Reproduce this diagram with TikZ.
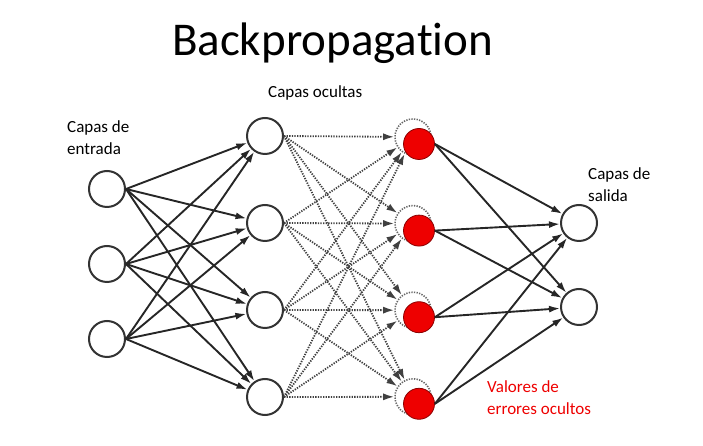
\documentclass[tikz,border=0pt]{standalone}
\usepackage{fontspec}
\setmainfont{Carlito}[Ligatures={NoCommon}]
\usetikzlibrary{arrows.meta, positioning}
\definecolor{errred}{HTML}{EE0000}
\definecolor{linegray}{HTML}{262626}
\tikzset{
    neuron/.style={
        circle, minimum size=36pt, inner sep=0pt,
        draw=black!80, line width=2pt, fill=white
    },
    hiddot/.style={
        circle, minimum size=36pt, inner sep=0pt,
        draw=black!60, line width=1.6pt, dash pattern=on 1.3pt off 1.3pt, fill=white
    },
    errnode/.style={
        circle, minimum size=31pt, inner sep=0pt,
        draw=red!55!black, line width=0.8pt, fill=errred
    },
    arrow/.style={
        -{Latex[length=11pt,width=7pt]}, line width=1.9pt, draw=linegray
    },
    dotarrow/.style={
        -{Latex[length=11pt,width=7pt]}, line width=1.8pt, draw=black!75,
        dash pattern=on 1.3pt off 1.3pt
    },
    lbltext/.style={
        inner sep=0pt, align=left, font=\fontsize{17}{22}\selectfont
    }
}

\begin{document}
\begin{tikzpicture}[x=1pt, y=1pt]

    \useasboundingbox (0,0) rectangle (703,446);

    % input layer
    \node[neuron] (in1) at (107,257) {};
    \node[neuron, below=37pt of in1] (in2) {};
    \node[neuron, below=37pt of in2] (in3) {};

    % hidden layer
    \node[neuron] (hid1) at (265,310) {};
    \node[neuron, below=49pt of hid1] (hid2) {};
    \node[neuron, below=49pt of hid2] (hid3) {};
    \node[neuron, below=49pt of hid3] (hid4) {};

    % hidden error values
    \node[hiddot] (hdot1) at (413,309) {};
    \node[hiddot, below=49pt of hdot1] (hdot2) {};
    \node[hiddot, below=49pt of hdot2] (hdot3) {};
    \node[hiddot, below=49pt of hdot3] (hdot4) {};
    \node[errnode, xshift=6pt, yshift=-7pt] (err1) at (hdot1) {};
    \node[errnode, xshift=6pt, yshift=-7pt] (err2) at (hdot2) {};
    \node[errnode, xshift=6pt, yshift=-7pt] (err3) at (hdot3) {};
    \node[errnode, xshift=6pt, yshift=-7pt] (err4) at (hdot4) {};

    % output layer
    \node[neuron] (out1) at (579,223) {};
    \node[neuron, below=46pt of out1] (out2) {};

    \draw[arrow] (in1.east) -- (hid1);
    \draw[arrow] (in1.east) -- (hid2);
    \draw[arrow] (in1.east) -- (hid3);
    \draw[arrow] (in1.east) -- (hid4);
    \draw[arrow] (in2.east) -- (hid1);
    \draw[arrow] (in2.east) -- (hid2);
    \draw[arrow] (in2.east) -- (hid3);
    \draw[arrow] (in2.east) -- (hid4);
    \draw[arrow] (in3.east) -- (hid1);
    \draw[arrow] (in3.east) -- (hid2);
    \draw[arrow] (in3.east) -- (hid3);
    \draw[arrow] (in3.east) -- (hid4);

    \draw[dotarrow] (hid1.east) -- (hdot1);
    \draw[dotarrow] (hid1.east) -- (hdot2);
    \draw[dotarrow] (hid1.east) -- (hdot3);
    \draw[dotarrow] (hid1.east) -- (hdot4);
    \draw[dotarrow] (hid2.east) -- (hdot1);
    \draw[dotarrow] (hid2.east) -- (hdot2);
    \draw[dotarrow] (hid2.east) -- (hdot3);
    \draw[dotarrow] (hid2.east) -- (hdot4);
    \draw[dotarrow] (hid3.east) -- (hdot1);
    \draw[dotarrow] (hid3.east) -- (hdot2);
    \draw[dotarrow] (hid3.east) -- (hdot3);
    \draw[dotarrow] (hid3.east) -- (hdot4);
    \draw[dotarrow] (hid4.east) -- (hdot1);
    \draw[dotarrow] (hid4.east) -- (hdot2);
    \draw[dotarrow] (hid4.east) -- (hdot3);
    \draw[dotarrow] (hid4.east) -- (hdot4);

    \draw[arrow] (err1.east) -- (out1);
    \draw[arrow] (err1.east) -- (out2);
    \draw[arrow] (err2.east) -- (out1);
    \draw[arrow] (err2.east) -- (out2);
    \draw[arrow] (err3.east) -- (out1);
    \draw[arrow] (err3.east) -- (out2);
    \draw[arrow] (err4.east) -- (out1);
    \draw[arrow] (err4.east) -- (out2);

    % texts
    \node[inner sep=0pt, anchor=base, font=\fontsize{47}{50}\selectfont] (title) at (332.5,390) {Backpropagation};
    \node[lbltext, anchor=base west] (lblhid) at (268,348) {Capas ocultas};
    \node[lbltext, anchor=base west] (lblin) at (67,291) {Capas de\\entrada};
    \node[lbltext, anchor=base west] (lblout) at (588,244) {Capas de\\salida};
    \node[lbltext, anchor=base west, text=errred] (lblerr) at (487,31) {Valores de\\errores ocultos};

\end{tikzpicture}
\end{document}
